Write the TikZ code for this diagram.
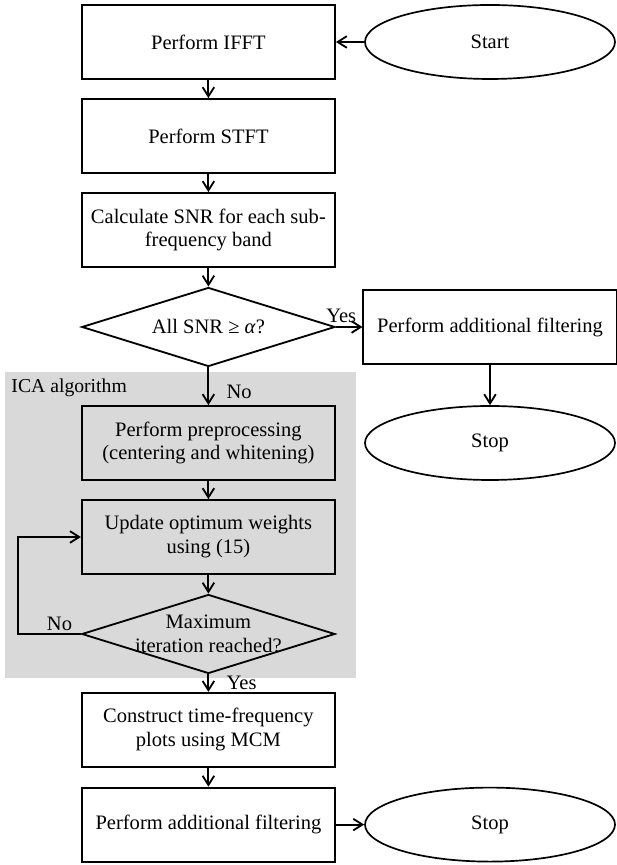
\documentclass[tikz,border=0pt]{standalone}
\usepackage{fontspec}
\setmainfont{Liberation Serif}
\usepackage{tikz}
\usetikzlibrary{arrows.meta,positioning,calc,shapes.geometric,backgrounds}
\definecolor{FondoICA}{HTML}{D9D9D9}
\tikzset{
  proceso/.style  = {draw, line width=1.3pt, align=center,
                     minimum width=6.33cm, minimum height=1.85cm, inner sep=2pt},
  decision/.style = {draw, diamond, aspect=3.2, line width=1.3pt, align=center,
                     minimum width=6.33cm, minimum height=1.975cm, inner sep=-4mm},
  extremo/.style  = {draw, ellipse, line width=1.2pt, align=center,
                     minimum width=6.25cm, minimum height=1.85cm},
  flecha/.style   = {-{Straight Barb[length=2.3mm,width=2.9mm]}, line width=1.3pt},
  etq/.style      = {inner sep=1.5pt},
}

\begin{document}
\begin{tikzpicture}[font=\fontsize{14.6pt}{17pt}\selectfont]
  \useasboundingbox (0,0) rectangle (15.4,21.625);
  % bloque ICA
  \fill[FondoICA] (0.125,4.675) rectangle (8.89,12.33);
  \node[anchor=west, inner sep=0pt, font=\fontsize{14pt}{16pt}\selectfont] (ica) at (0.28,11.93) {ICA algorithm};
  % columna principal
  \node[proceso] (ifft) at (5.21,20.575) {Perform IFFT};
  \node[extremo] (ini)  at (12.25,20.575) {Start};
  \node[proceso] (stft) at (5.21,18.225) {Perform STFT};
  \node[proceso] (snr)  at (5.21,15.875) {Calculate SNR for each sub-\\frequency band};
  \node[decision] (d1)  at (5.21,13.45) {All SNR ≥ \textit{α}?};
  \node[proceso] (fa)   at (12.25,13.45) {Perform additional filtering};
  \node[extremo] (fin1) at (12.25,10.55) {Stop};
  \node[proceso] (pre)  at (5.21,10.55) {Perform preprocessing\\(centering and whitening)};
  \node[proceso] (upd)  at (5.21,8.2) {Update optimum weights\\using (15)};
  \node[decision] (d2)  at (5.21,5.775) {\fontsize{14.6pt}{17.7pt}\selectfont Maximum\\iteration reached?};
  \node[proceso] (mcm)  at (5.21,3.38) {Construct time-frequency\\plots using MCM};
  \node[proceso] (fb)   at (5.21,1.01) {Perform additional filtering};
  \node[extremo] (fin2) at (12.25,1.01) {Stop};
  \coordinate (lazo) at (0.45,0);
  % conexiones
  \draw[flecha] (ini) -- (ifft);
  \draw[flecha] (ifft) -- (stft);
  \draw[flecha] (stft) -- (snr);
  \draw[flecha] (snr) -- (d1);
  \draw[flecha] (d1) -- node[etq,above,pos=0.2,yshift=1pt]{Yes} (fa);
  \draw[flecha] (fa) -- (fin1);
  \draw[flecha] (d1) -- node[etq,right,pos=0.65,xshift=3.8mm]{No} (pre);
  \draw[flecha] (pre) -- (upd);
  \draw[flecha] (upd) -- (d2);
  \draw[flecha] (d2.west) -- node[etq,above,pos=0.34]{No} (d2.west -| lazo) |- (upd.west);
  \draw[flecha] (d2) -- node[etq,right,pos=0.5,xshift=3.8mm]{Yes} (mcm);
  \draw[flecha] (mcm) -- (fb);
  \draw[flecha] (fb) -- (fin2);
\end{tikzpicture}
\end{document}
